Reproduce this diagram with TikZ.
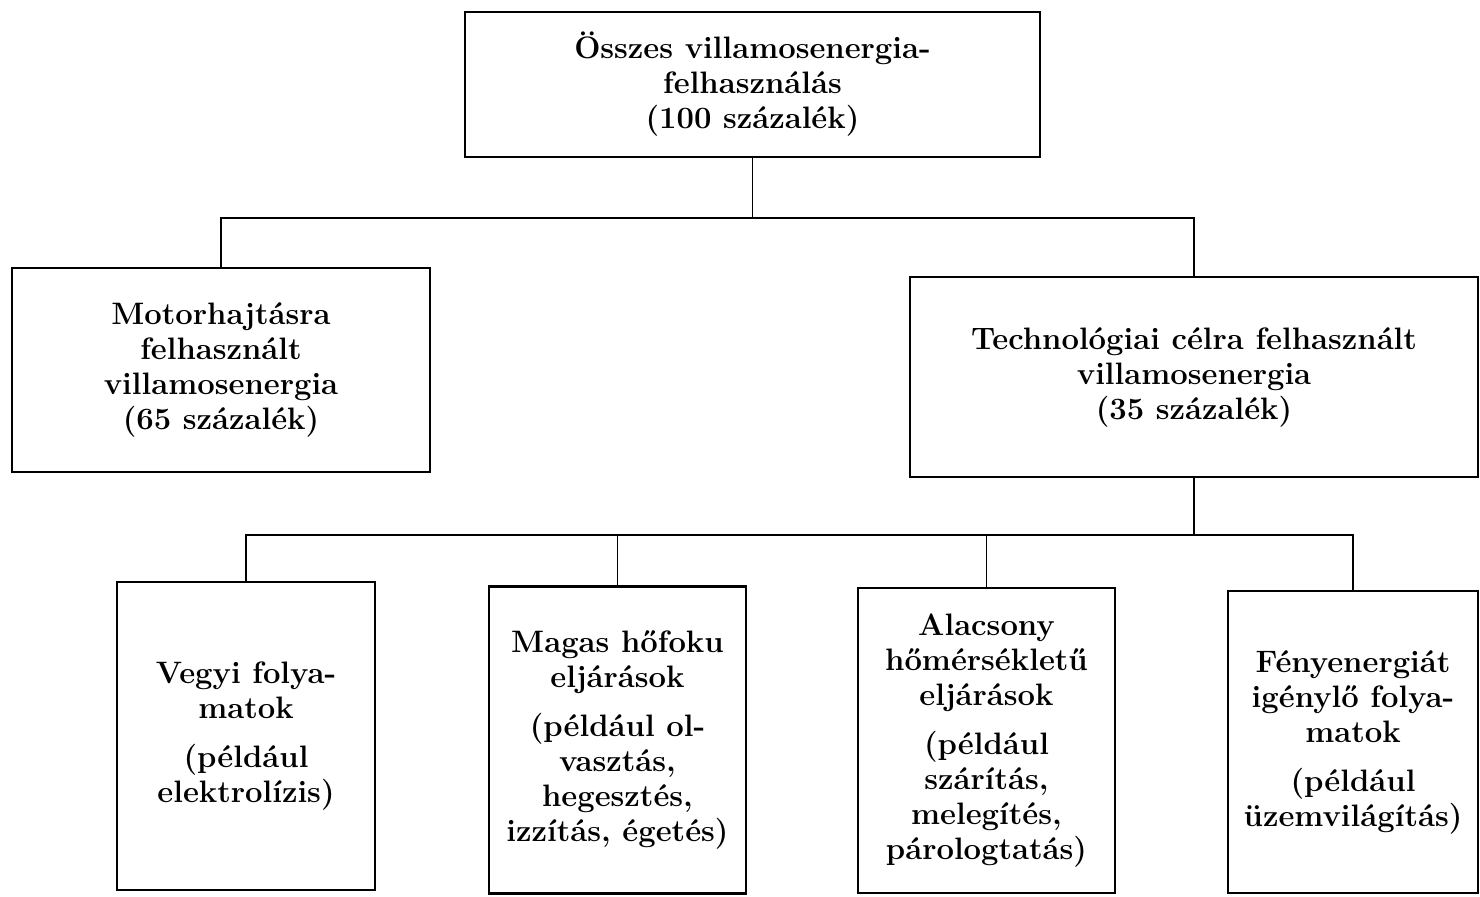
\documentclass[tikz,border=0pt]{standalone}
\usepackage{tikz}

\begin{document}
\begin{tikzpicture}[x=0.5pt,y=-0.5pt,
	box/.style={draw, line width=1.1pt, inner sep=0pt, align=center, font=\fontsize{15.5}{17.5}\selectfont\bfseries},
	link/.style={line width=0.7pt}]
	\useasboundingbox (0,0) rectangle (1480,896);
	\node[box, minimum width=287.5pt, minimum height=72.5pt] (osszes) at (752.5,84.5) {\"Osszes villamosenergia-\\felhaszn\'al\'as\\(100 sz\'azal\'ek)};
	\node[box, minimum width=209pt, minimum height=102pt] (motor) at (221,370) {Motorhajt\'asra\\felhaszn\'alt\\villamosenergia\\(65 sz\'azal\'ek)};
	\node[box, minimum width=284pt, minimum height=100pt] (techn) at (1194,377) {Technol\'ogiai c\'elra felhaszn\'alt\\villamosenergia\\(35 sz\'azal\'ek)};
	\node[box, minimum width=129pt, minimum height=154pt] (vegyi) at (246,736) {Vegyi folya-\\matok\\[7pt](p\'eld\'aul\\elektrol\'{\i}zis)};
	\node[box, minimum width=128.5pt, minimum height=153.5pt] (magas) at (617.5,740) {Magas h\H{o}foku\\elj\'ar\'asok\\[7pt](p\'eld\'aul ol-\\vaszt\'as,\\hegeszt\'es,\\izz\'{\i}t\'as, \'eget\'es)};
	\node[box, minimum width=128.5pt, minimum height=152.5pt] (alacsony) at (986.5,740.5) {Alacsony\\h\H{o}m\'ers\'eklet\H{u}\\elj\'ar\'asok\\[7pt](p\'eld\'aul\\sz\'ar\'{\i}t\'as,\\meleg\'{\i}t\'es,\\p\'arologtat\'as)};
	\node[box, minimum width=125pt, minimum height=151pt] (feny) at (1353,742) {F\'enyenergi\'at\\ig\'enyl\H{o} folya-\\matok\\[7pt](p\'eld\'aul\\\"uzemvil\'ag\'{\i}t\'as)};
	\coordinate (elag1) at (752.5,218);
	\coordinate (elag2) at (1194,535);
	\draw[link] (osszes.south) -- (elag1);
	\draw[link] (motor.north) |- (elag1) -| (techn.north);
	\draw[link] (techn.south) -- (elag2);
	\draw[link] (vegyi.north) |- (elag2) -| (feny.north);
	\draw[link] (magas.north) -- (magas.north |- elag2);
	\draw[link] (alacsony.north) -- (alacsony.north |- elag2);
\end{tikzpicture}
\end{document}
